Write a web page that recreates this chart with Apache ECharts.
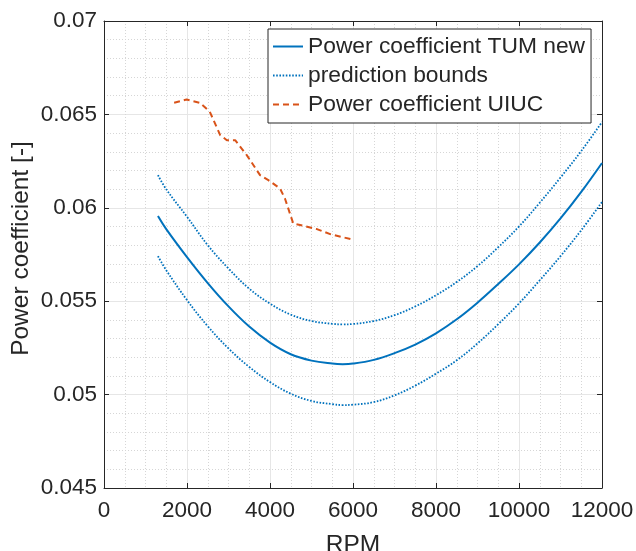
<!DOCTYPE html>
<html>
<head>
<meta charset="utf-8">
<script src="https://cdn.jsdelivr.net/npm/echarts@6/dist/echarts.min.js"></script>
<style>
  html, body { margin: 0; padding: 0; background: #fff; }
  #chart { width: 636px; height: 551px; }
</style>
</head>
<body>
<div id="chart"></div>
<script>
// fitted curve (TUM new) and its prediction bounds
var rpmFit = [1300, 1500, 2000, 2500, 3000, 3500, 4000, 4500, 5000, 5500, 5750, 6000,
  6500, 7000, 7500, 8000, 8500, 9000, 9500, 10000, 10500, 11000, 11500, 12000]
var cpMean = [0.05956, 0.05886, 0.05736, 0.05597, 0.05472, 0.05364, 0.05278, 0.05216, 0.05182, 0.05166, 0.05163, 0.05166,
  0.05186, 0.05222, 0.05268, 0.05328, 0.05403, 0.05492, 0.05592, 0.05697, 0.05814, 0.05943, 0.06085, 0.0624]
var cpUpper = [0.06175, 0.06099, 0.05952, 0.058, 0.05675, 0.05567, 0.05487, 0.05428, 0.05394, 0.05379, 0.05376, 0.05378,
  0.05394, 0.05425, 0.05472, 0.05532, 0.05603, 0.05688, 0.05789, 0.059, 0.06027, 0.06162, 0.06304, 0.06459]
var cpLower = [0.05741, 0.05666, 0.05506, 0.05366, 0.05247, 0.05148, 0.05067, 0.05005, 0.04966, 0.04949, 0.04944, 0.04946,
  0.0496, 0.04996, 0.05048, 0.05112, 0.05184, 0.05274, 0.05377, 0.05488, 0.05612, 0.05741, 0.0588, 0.06031]

// UIUC measurement
var rpmUiuc = [1690, 1990, 2310, 2550, 2800, 2960, 3160, 3440, 3760, 3960, 4240, 4360, 4560, 4800, 5130, 5450, 5970]
var cpUiuc = [0.06562, 0.0658, 0.06562, 0.06514, 0.06389, 0.06362, 0.06362, 0.06282, 0.06175, 0.06148,
  0.06104, 0.0605, 0.05916, 0.05904, 0.05886, 0.05859, 0.05831]

var legendNames = ["Power coefficient TUM new", "prediction bounds", "Power coefficient UIUC"]

function pairs(xs, ys) {
  return xs.map(function (x, i) { return [x, ys[i]] })
}

var font = "'Liberation Sans', Arial, Helvetica, sans-serif"
var textColor = "#262626"
var blue = "#0072BD"
var orange = "#D95319"

var chart = echarts.init(document.getElementById("chart"))

var axisLine = { show: true, onZero: false, lineStyle: { color: textColor, width: 1 } }
var tickIn = { show: true, inside: true, length: 5, lineStyle: { color: textColor } }

chart.setOption({
  animation: false,
  backgroundColor: "#fff",
  textStyle: { fontFamily: font },
  grid: { left: 104, right: 34, top: 21, bottom: 63, containLabel: false, outerBoundsMode: "none" },
  legend: {
    data: legendNames,
    orient: "vertical",
    left: 268,
    top: 29,
    padding: [6, 6, 7, 4],
    itemWidth: 30,
    itemHeight: 14,
    itemGap: 6,
    backgroundColor: "#fff",
    borderColor: textColor,
    borderWidth: 1,
    borderRadius: 0,
    itemStyle: { opacity: 0 },
    textStyle: { fontSize: 22.8, color: textColor, fontFamily: font }
  },
  xAxis: [{
    type: "value",
    min: 0,
    max: 12000,
    interval: 2000,
    name: "RPM",
    nameLocation: "middle",
    nameGap: 45,
    nameMoveOverlap: false,
    nameTextStyle: { fontSize: 24.5, color: textColor },
    axisLine: axisLine,
    axisTick: tickIn,
    axisLabel: { fontSize: 22.5, color: textColor, margin: 11, formatter: function (v) { return String(v) } },
    splitLine: { show: true, lineStyle: { color: "#e6e6e6", width: 1 } },
    minorTick: { show: false, splitNumber: 4 },
    minorSplitLine: { show: true, lineStyle: { color: "#d6d6d6", type: [1, 2], width: 1 } }
  }, {
    type: "value",
    position: "top",
    min: 0,
    max: 12000,
    interval: 2000,
    axisLine: axisLine,
    axisTick: tickIn,
    axisLabel: { show: false },
    splitLine: { show: false }
  }],
  yAxis: [{
    type: "value",
    min: 0.045,
    max: 0.07,
    interval: 0.005,
    name: "Power coefficient [-]",
    nameLocation: "middle",
    nameGap: 70,
    nameMoveOverlap: false,
    nameTextStyle: { fontSize: 24.5, color: textColor, padding: [0, 0, 0, 12] },
    axisLine: axisLine,
    axisTick: tickIn,
    axisLabel: {
      fontSize: 22.5, color: textColor, margin: 7,
      formatter: function (v) { return String(+v.toFixed(3)) }
    },
    splitLine: { show: true, lineStyle: { color: "#e6e6e6", width: 1 } },
    minorTick: { show: false, splitNumber: 5 },
    minorSplitLine: { show: true, lineStyle: { color: "#d6d6d6", type: [1, 2], width: 1 } }
  }, {
    type: "value",
    position: "right",
    min: 0.045,
    max: 0.07,
    interval: 0.005,
    axisLine: axisLine,
    axisTick: tickIn,
    axisLabel: { show: false },
    splitLine: { show: false }
  }],
  series: [
    {
      name: legendNames[0],
      type: "line",
      data: pairs(rpmFit, cpMean),
      smooth: 0.4,
      symbol: "none",
      lineStyle: { color: blue, width: 2 },
      itemStyle: { color: blue }
    },
    {
      name: legendNames[1],
      type: "line",
      data: pairs(rpmFit, cpUpper),
      smooth: 0.4,
      symbol: "none",
      lineStyle: { color: blue, width: 1.8, type: [1.6, 1.6] },
      itemStyle: { color: blue }
    },
    {
      name: legendNames[1],
      type: "line",
      data: pairs(rpmFit, cpLower),
      smooth: 0.4,
      symbol: "none",
      lineStyle: { color: blue, width: 1.8, type: [1.6, 1.6] },
      itemStyle: { color: blue }
    },
    {
      name: legendNames[2],
      type: "line",
      data: pairs(rpmUiuc, cpUiuc),
      symbol: "none",
      lineStyle: { color: orange, width: 2, type: [6, 4] },
      itemStyle: { color: orange }
    }
  ]
})
</script>
</body>
</html>
